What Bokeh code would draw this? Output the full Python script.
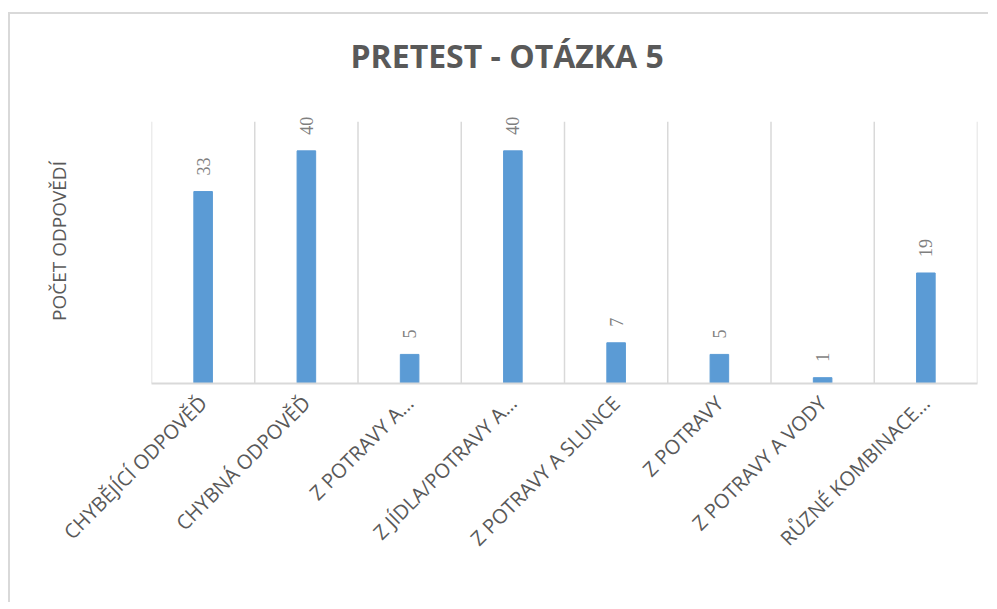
import math
from bokeh.plotting import figure
from bokeh.models import ColumnDataSource, FactorRange, Range1d, FixedTicker, LabelSet
from bokeh.embed import file_html
from bokeh.resources import INLINE

categories = [
    "CHYBĚJÍCÍ ODPOVĚĎ",
    "CHYBNÁ ODPOVĚĎ",
    "Z POTRAVY A…",
    "Z JÍDLA/POTRAVY A…",
    "Z POTRAVY A SLUNCE",
    "Z POTRAVY",
    "Z POTRAVY A VODY",
    "RŮZNÉ KOMBINACE…",
]
counts = [33, 40, 5, 40, 7, 5, 1, 19]
count_labels = [str(v) for v in counts]
axis_max = 45

title_text = "PRETEST - OTÁZKA 5"
y_label = "POČET ODPOVĚDÍ"

src = ColumnDataSource(dict(cat=categories, val=counts, lab=count_labels))

# category separators (boundaries between categories)
sep_x = [(c, -0.5) for c in categories] + [(categories[-1], 0.5)]
sep_src = ColumnDataSource(dict(x=sep_x, y0=[0] * len(sep_x), y1=[axis_max] * len(sep_x)))

W, H = 980, 590
p = figure(
    x_range=FactorRange(factors=categories, range_padding=0),
    y_range=Range1d(0, 49),
    width=W, height=H,
    output_backend="svg", toolbar_location=None,
    min_border_left=141, min_border_right=13, min_border_top=84, min_border_bottom=221,
    title=title_text,
)
p.styles = {"margin-left": "8px", "margin-top": "12px",
            "border-top": "2px solid #d9d9d9", "border-left": "2px solid #d9d9d9"}

p.title.align = "left"
p.title.offset = 199
p.title.vertical_align = "top"
p.title.text_font = "Open Sans"
p.title.text_font_size = "32px"
p.title.text_font_style = "bold"
p.title.text_color = "#595959"
p.title.standoff = 39

p.outline_line_color = None
p.background_fill_color = "white"
p.border_fill_color = "white"
p.xgrid.grid_line_color = None
p.ygrid.grid_line_color = None

p.segment(x0="x", y0="y0", x1="x", y1="y1", source=sep_src,
          line_color="#d9d9d9", line_width=1.5)

p.vbar(x="cat", top="val", width=0.18, source=src, fill_color="#5B9BD5", line_color="#5B9BD5")

labels = LabelSet(x="cat", y="val", text="lab", source=src, angle=math.pi / 2,
                  text_align="left", text_baseline="middle", y_offset=16,
                  text_font="Open Sans", text_font_size="18px", text_color="#7f7f7f")
p.add_layout(labels)

xa = p.xaxis[0]
xa.major_label_orientation = math.pi / 4
xa.major_label_text_font = "Open Sans"
xa.major_label_text_font_size = "20px"
xa.major_label_text_color = "#595959"
xa.major_tick_line_color = None
xa.minor_tick_line_color = None
xa.axis_line_color = "#d9d9d9"
xa.axis_line_width = 2
xa.major_label_standoff = 10

ya = p.yaxis[0]
ya.ticker = FixedTicker(ticks=[])
ya.axis_label = y_label
ya.axis_label_text_font = "Open Sans"
ya.axis_label_text_font_size = "19px"
ya.axis_label_text_font_style = "normal"
ya.axis_label_text_color = "#595959"
ya.major_tick_line_color = None
ya.minor_tick_line_color = None
ya.axis_line_color = None
ya.axis_label_standoff = 80

open("out.html", "w").write(file_html(p, INLINE))
